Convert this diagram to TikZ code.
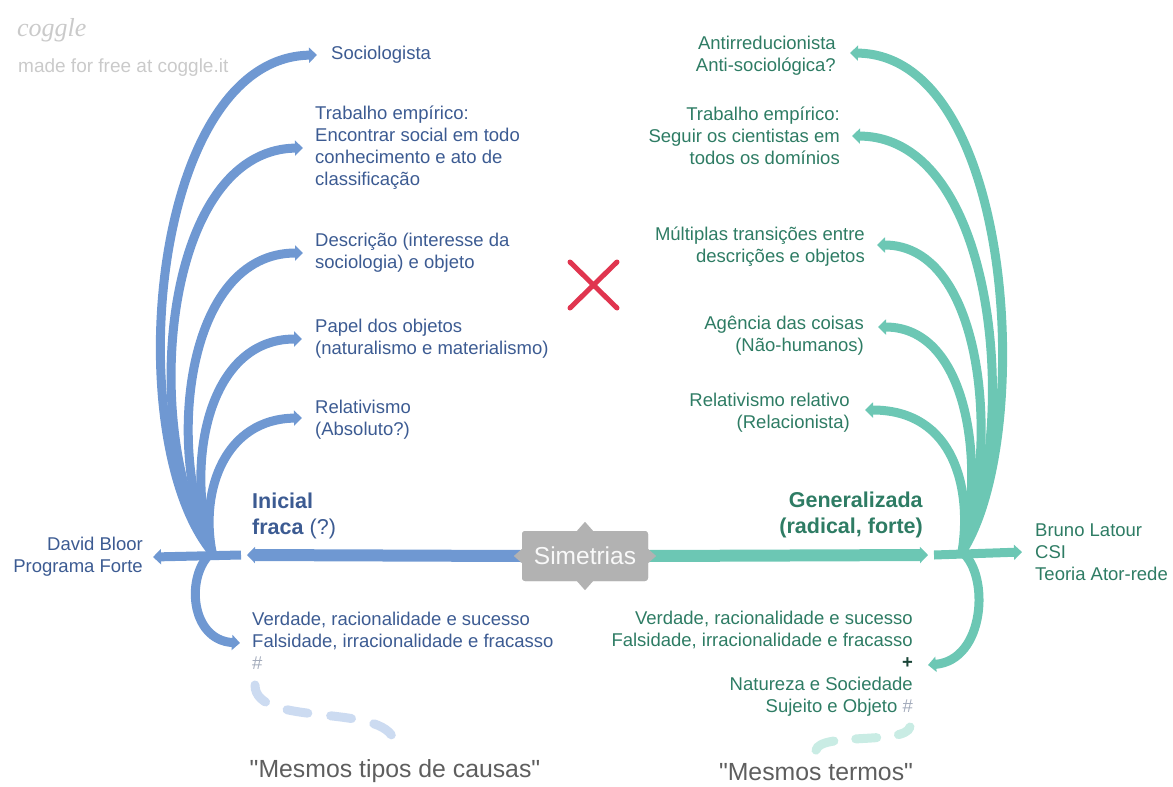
\documentclass[tikz,border=0pt]{standalone}
\usepackage{fontspec}
\setmainfont{Liberation Sans}
\newfontfamily\logofonte{Liberation Serif}
\newfontfamily\citfonte{Liberation Sans}[Ligatures=TeXOff]
\usetikzlibrary{arrows.meta}

\definecolor{azul}{HTML}{6F98D2}
\definecolor{azulTexto}{HTML}{3C5B92}
\definecolor{azulClaro}{HTML}{CCDBF1}
\definecolor{verde}{HTML}{6CC7B4}
\definecolor{verdeTexto}{HTML}{2E7C64}
\definecolor{verdeClaro}{HTML}{C9ECE4}
\definecolor{cinza}{HTML}{B2B2B2}
\definecolor{cinzaHash}{HTML}{A3ABBB}
\definecolor{cinzaLogo}{HTML}{CACACA}
\definecolor{cinzaTexto}{HTML}{5E5E5E}
\definecolor{vermelho}{HTML}{E0354F}

\tikzset{
  ramoAzul/.style={draw=azul, line width=9pt, -{Triangle[length=8pt,width=15pt]}},
  ramoVerde/.style={draw=verde, line width=9pt, -{Triangle[length=8pt,width=15pt]}},
  troncoAzul/.style={draw=azul, line width=12pt, -{Triangle[length=8pt,width=16pt]}},
  troncoVerde/.style={draw=verde, line width=12pt, -{Triangle[length=8pt,width=16pt]}},
  textoAzul/.style={text=azulTexto, font=\fontsize{18.5}{22}\selectfont,
    inner sep=0pt, anchor=west, align=left},
  textoVerde/.style={text=verdeTexto, font=\fontsize{18.5}{22}\selectfont,
    inner sep=0pt, anchor=east, align=right},
  negrito/.style={font=\fontsize{21.5}{26}\selectfont},
  tracejadoAzul/.style={draw=azulClaro, line width=9pt, line cap=round, dash pattern=on 21pt off 23pt},
  tracejadoVerde/.style={draw=verdeClaro, line width=9pt, line cap=round, dash pattern=on 21pt off 22pt},
  citacao/.style={text=cinzaTexto, font=\citfonte\fontsize{24.8}{28}\selectfont, inner sep=0pt},
  simBox/.style={fill=cinza, rounded corners=3pt, minimum width=126pt, minimum height=50pt,
    text=white!95!gray, font=\fontsize{24.5}{28}\selectfont, inner sep=0pt}
}

\begin{document}
\begin{tikzpicture}[x=1pt, y=-1pt]
  \useasboundingbox (0,0) rectangle (1173,787);

  % logo
  \node[text=cinzaLogo, font=\logofonte\itshape\fontsize{26}{28}\selectfont, inner sep=0pt, anchor=west] (coggle) at (17,30) {coggle};
  \node[text=cinzaLogo, font=\fontsize{19}{22}\selectfont, inner sep=0pt, anchor=west] (madeFor) at (18,68) {made for free at coggle.it};

  % centro
  \node[simBox] (simetrias) at (585,556) {};
  \coordinate (juncaoEsq) at (247,555);
  \coordinate (juncaoDir) at (928,555);
  \coordinate (raizEsq) at (212,552);
  \coordinate (raizDir) at (962,552);

  % lado esquerdo
  \node[textoAzul] (sociologista) at (331,55) {Sociologista};
  \node[textoAzul] (trabalhoEsq) at (315,148) {Trabalho empírico:\\Encontrar social em todo\\conhecimento e ato de\\classificação};
  \node[textoAzul] (descricao) at (315,253) {Descrição (interesse da\\sociologia) e objeto};
  \node[textoAzul] (papel) at (315,339) {Papel dos objetos\\(naturalismo e materialismo)};
  \node[textoAzul] (relativismo) at (315,420) {Relativismo\\(Absoluto?)};
  \node[textoAzul, negrito] (inicial) at (252,516) {\textbf{Inicial}\\\textbf{fraca} (?)};
  \node[textoAzul, anchor=east, align=right] (bloor) at (143,557) {David Bloor\\Programa Forte};
  \node[textoAzul] (verdadeEsq) at (252,641) {Verdade, racionalidade e sucesso\\Falsidade, irracionalidade e fracasso\\\textcolor{cinzaHash}{\#}};

  % lado direito
  \node[textoVerde] (anti) at (836,56) {Antirreducionista\\Anti-sociológica?};
  \node[textoVerde] (trabalhoDir) at (840,136) {Trabalho empírico:\\Seguir os cientistas em\\todos os domínios};
  \node[textoVerde] (multiplas) at (865,247) {Múltiplas transições entre\\descrições e objetos};
  \node[textoVerde] (agencia) at (864,336) {Agência das coisas\\(Não-humanos)};
  \node[textoVerde] (relRelativo) at (850,413) {Relativismo relativo\\(Relacionista)};
  \node[textoVerde, negrito] (generalizada) at (923,515) {\textbf{Generalizada}\\\textbf{(radical, forte)}};
  \node[textoVerde, anchor=west, align=left] (latour) at (1035,552) {Bruno Latour\\CSI\\Teoria Ator-rede};
  \node[textoVerde] (verdadeDir) at (913,664) {Verdade, racionalidade e sucesso\\Falsidade, irracionalidade e fracasso\\\textcolor{verdeTexto!55!black}{\textbf{+}}\\Natureza e Sociedade\\Sujeito e Objeto \textcolor{cinzaHash}{\#}};

  % citacoes
  \node[citacao] (causas) at (395,771) {"Mesmos tipos de causas"};
  \node[citacao] (termos) at (816,772) {"Mesmos termos"};
  \coordinate (hashEsq) at (255,685);
  \coordinate (hashDir) at (910,727);

  % ramos azuis
  \draw[troncoAzul] (simetrias.west) -- (juncaoEsq);
  \draw[ramoAzul] ([xshift=-6pt]juncaoEsq) -- ([xshift=10pt]bloor.east);
  \draw[ramoAzul] (raizEsq) .. controls (120,440) and (150,58) .. ([xshift=-14pt]sociologista.west);
  \draw[ramoAzul] (raizEsq) .. controls (140,440) and (160,150) .. ([xshift=-12pt]trabalhoEsq.west);
  \draw[ramoAzul] (raizEsq) .. controls (165,450) and (185,253) .. ([xshift=-12pt]descricao.west);
  \draw[ramoAzul] (raizEsq) .. controls (185,470) and (205,339) .. ([xshift=-13pt]papel.west);
  \draw[ramoAzul] (raizEsq) .. controls (200,490) and (225,419) .. ([xshift=-13pt,yshift=2pt]relativismo.west);
  \draw[ramoAzul] (raizEsq) .. controls (185,575) and (190,640) .. ([xshift=-12pt,yshift=-2pt]verdadeEsq.west);

  % ramos verdes
  \draw[troncoVerde] (simetrias.east) -- (juncaoDir);
  \draw[ramoVerde] ([xshift=6pt]juncaoDir) -- ([xshift=-13pt]latour.west);
  \draw[ramoVerde] (raizDir) .. controls (1035,440) and (1015,55) .. ([xshift=14pt,yshift=3pt]anti.east);
  \draw[ramoVerde] (raizDir) .. controls (1020,440) and (1000,137) .. ([xshift=12pt]trabalhoDir.east);
  \draw[ramoVerde] (raizDir) .. controls (1000,450) and (985,245) .. ([xshift=12pt,yshift=2pt]multiplas.east);
  \draw[ramoVerde] (raizDir) .. controls (985,470) and (970,327) .. ([xshift=14pt,yshift=9pt]agencia.east);
  \draw[ramoVerde] (raizDir) .. controls (972,490) and (955,410) .. ([xshift=15pt,yshift=3pt]relRelativo.east);
  \draw[ramoVerde] (raizDir) .. controls (990,575) and (985,660) .. ([xshift=15pt,yshift=-1pt]verdadeDir.east);

  % caixa central por cima dos troncos
  \node[simBox] (simetriasTexto) at (simetrias) {Simetrias};
  \fill[cinza] ([xshift=-8pt]simetrias.north) -- ++(8,-9) -- ++(8,9) -- cycle;
  \fill[cinza] ([xshift=-8pt]simetrias.south) -- ++(8,9) -- ++(8,-9) -- cycle;
  \fill[cinza] ([yshift=7pt]simetrias.west) -- ++(-8,7) -- ++(8,7) -- cycle;
  \fill[cinza] ([yshift=7pt]simetrias.east) -- ++(8,7) -- ++(-8,7) -- cycle;

  % tracejados
  \draw[tracejadoAzul] (hashEsq) .. controls (255,730) and (395,700) .. ([yshift=13pt]causas.north);
  \draw[tracejadoVerde] ([yshift=13pt]termos.north) .. controls (820,732) and (905,745) .. (hashDir);

  % X vermelho
  \draw[vermelho, line width=5pt, line cap=round] (570,262) -- (617,308) (617,262) -- (570,308);
\end{tikzpicture}
\end{document}
